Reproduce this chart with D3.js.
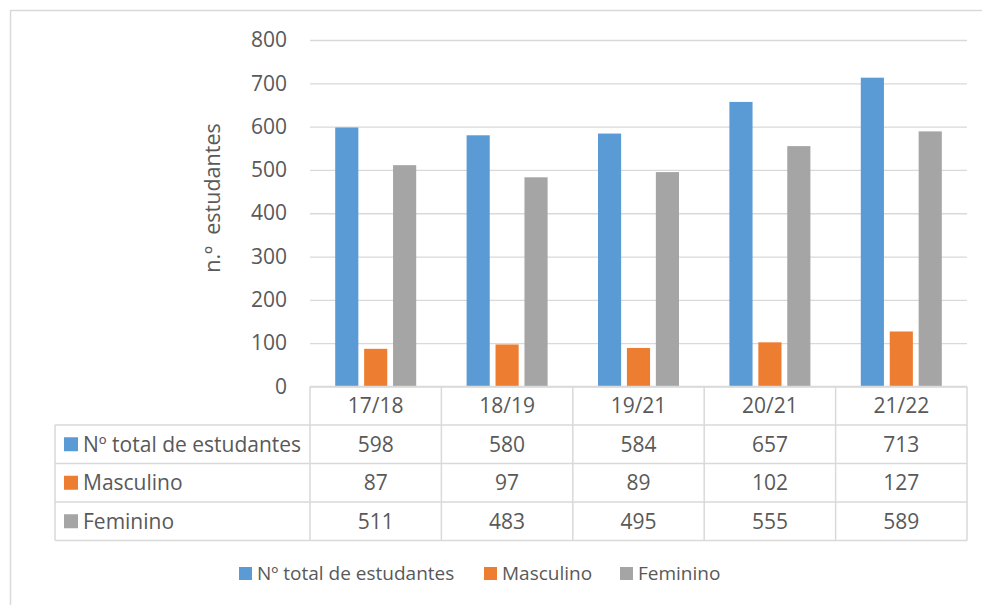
<!DOCTYPE html>
<html>
<head>
<meta charset="utf-8">
<script src="https://cdn.jsdelivr.net/npm/d3@7"></script>
<style>
  body { margin: 0; background: #fff; }
  text { font-family: "Open Sans", "Noto Sans", sans-serif; fill: #595959; }
</style>
</head>
<body>
<div id="chart"></div>
<script>
const categories = ['17/18', '18/19', '19/21', '20/21', '21/22'];
const seriesNames = ['Nº total de estudantes', 'Masculino', 'Feminino'];
const totalValues = [598, 580, 584, 657, 713];
const maleValues = [87, 97, 89, 102, 127];
const femaleValues = [511, 483, 495, 555, 589];
const yTicks = [0, 100, 200, 300, 400, 500, 600, 700, 800];
const colors = ['#5b9bd5', '#ed7d31', '#a5a5a5'];

const series = [totalValues, maleValues, femaleValues];

const width = 982, height = 605;
const plot = {left: 310, right: 967, top: 40, bottom: 386.5};
const rowH = 38.5;
const tableLeft = 55;
const bigFont = '21px';

const svg = d3.select('#chart')
    .append('svg')
    .attr('width', width)
    .attr('height', height);

// outer frame (only top and left visible)
svg.append('path')
    .attr('d', 'M10.5,' + height + 'V10.5H' + width)
    .attr('fill', 'none')
    .attr('stroke', '#d9d9d9')
    .attr('stroke-width', 1.5);

const x = d3.scaleBand()
    .domain(categories)
    .range([plot.left, plot.right]);

const y = d3.scaleLinear()
    .domain([0, 800])
    .range([plot.bottom, plot.top]);

const inner = d3.scaleBand()
    .domain(d3.range(series.length))
    .range([-40.5, 40.5])
    .paddingInner(0.2);

// gridlines
const yAxis = d3.axisLeft(y)
    .tickValues(yTicks)
    .tickSize(-(plot.right - plot.left))
    .tickPadding(23);

svg.append('g')
    .attr('transform', 'translate(' + plot.left + ',0)')
    .call(yAxis)
    .call(g => g.select('.domain').remove())
    .call(g => g.selectAll('.tick line').attr('stroke', '#d9d9d9').attr('stroke-width', 1.3))
    .call(g => g.selectAll('.tick text')
        .attr('font-size', bigFont)
        .attr('fill', '#595959')
        .attr('font-family', '"Open Sans", sans-serif'));

// bars
series.forEach((vals, si) => {
  svg.append('g')
      .selectAll('rect')
      .data(vals)
      .enter()
      .append('rect')
      .attr('x', (d, i) => x(categories[i]) + x.bandwidth() / 2 + inner(si))
      .attr('y', d => y(d))
      .attr('width', inner.bandwidth())
      .attr('height', d => y(0) - y(d))
      .attr('fill', colors[si]);
});

// y title
svg.append('text')
    .attr('transform', 'translate(220,198) rotate(-90)')
    .attr('text-anchor', 'middle')
    .attr('font-size', '21.5px')
    .style('white-space', 'pre')
    .text('n.º  estudantes');

// data table
const tbl = svg.append('g');
const lineColor = '#d9d9d9';
const tableTop = plot.bottom;
const tableBottom = tableTop + rowH * 4;

// horizontal lines
tbl.append('line')
    .attr('x1', plot.left).attr('x2', plot.right)
    .attr('y1', tableTop).attr('y2', tableTop)
    .attr('stroke', lineColor).attr('stroke-width', 1.5);
d3.range(1, 5).forEach(r => {
  tbl.append('line')
      .attr('x1', tableLeft).attr('x2', plot.right)
      .attr('y1', tableTop + r * rowH).attr('y2', tableTop + r * rowH)
      .attr('stroke', lineColor).attr('stroke-width', 1.5);
});
// vertical lines
tbl.append('line')
    .attr('x1', tableLeft).attr('x2', tableLeft)
    .attr('y1', tableTop + rowH).attr('y2', tableBottom)
    .attr('stroke', lineColor).attr('stroke-width', 1.5);
categories.forEach(c => {
  tbl.append('line')
      .attr('x1', x(c)).attr('x2', x(c))
      .attr('y1', tableTop).attr('y2', tableBottom)
      .attr('stroke', lineColor).attr('stroke-width', 1.5);
});
tbl.append('line')
    .attr('x1', plot.right).attr('x2', plot.right)
    .attr('y1', tableTop).attr('y2', tableBottom)
    .attr('stroke', lineColor).attr('stroke-width', 1.5);

// header labels
tbl.selectAll('.hdr')
    .data(categories)
    .enter()
    .append('text')
    .attr('x', d => x(d) + x.bandwidth() / 2)
    .attr('y', tableTop + rowH / 2)
    .attr('dy', '0.35em')
    .attr('text-anchor', 'middle')
    .attr('font-size', bigFont)
    .text(d => d);

// series rows
series.forEach((vals, si) => {
  const cy = tableTop + rowH * (si + 1) + rowH / 2;
  tbl.append('rect')
      .attr('x', 64).attr('y', cy - 7)
      .attr('width', 14).attr('height', 14)
      .attr('fill', colors[si]);
  tbl.append('text')
      .attr('x', 83).attr('y', cy)
      .attr('dy', '0.35em')
      .attr('font-size', bigFont)
      .text(seriesNames[si]);
  tbl.selectAll('.v' + si)
      .data(vals)
      .enter()
      .append('text')
      .attr('x', (d, i) => x(categories[i]) + x.bandwidth() / 2)
      .attr('y', cy)
      .attr('dy', '0.35em')
      .attr('text-anchor', 'middle')
      .attr('font-size', bigFont)
      .text(d => d);
});

// legend
const legendX = [239, 484, 620];
const legend = svg.append('g');
seriesNames.forEach((name, i) => {
  legend.append('rect')
      .attr('x', legendX[i]).attr('y', 567)
      .attr('width', 13).attr('height', 13)
      .attr('fill', colors[i]);
  legend.append('text')
      .attr('x', legendX[i] + 18).attr('y', 573.5)
      .attr('dy', '0.35em')
      .attr('font-size', '19px')
      .text(name);
});
</script>
</body>
</html>
